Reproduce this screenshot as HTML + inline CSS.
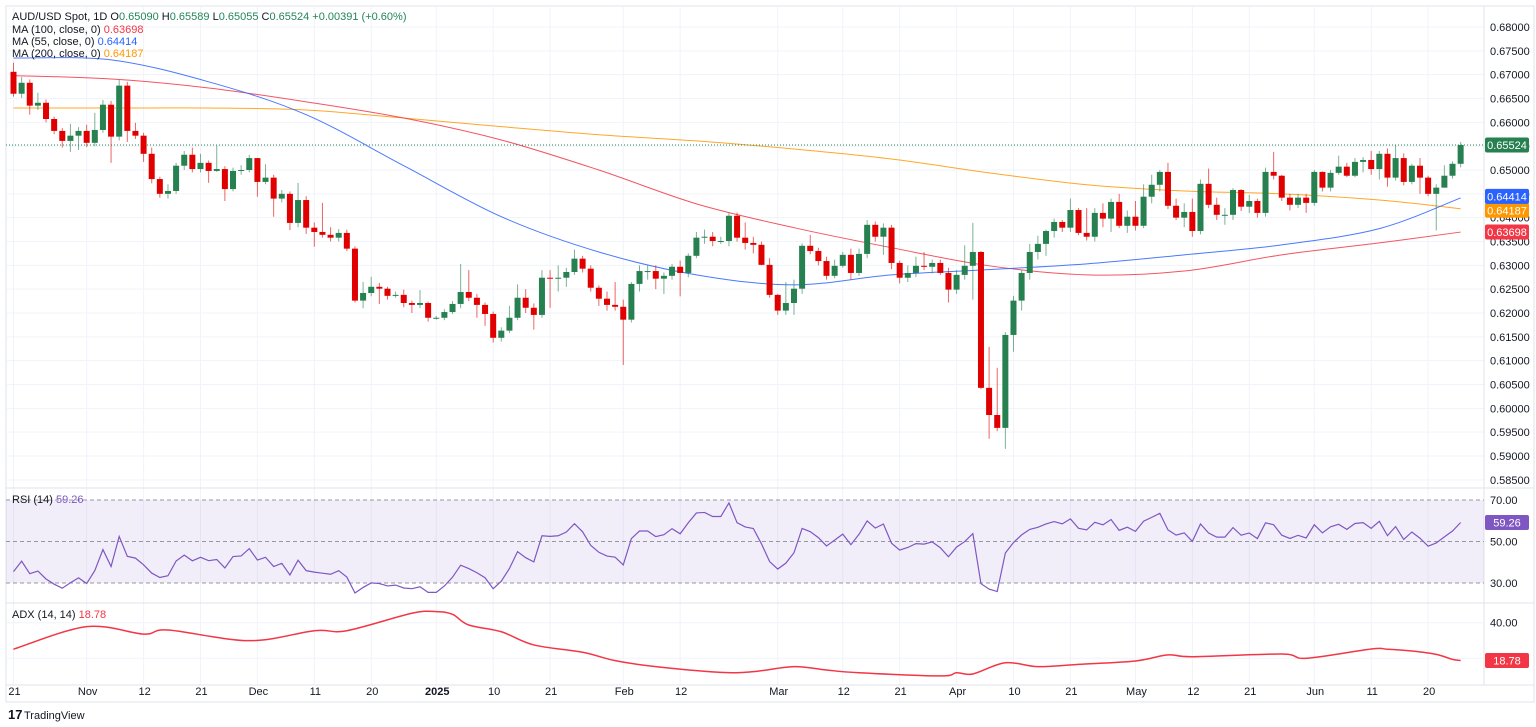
<!DOCTYPE html>
<html><head><meta charset="utf-8">
<style>
html,body{margin:0;padding:0;background:#fff;}
svg{display:block;font-family:"Liberation Sans",Arial,sans-serif;}
</style></head>
<body>
<svg id="chart" width="1536" height="727" viewBox="0 0 1536 727" xmlns="http://www.w3.org/2000/svg">
<g id="grid"></g>
<g id="ma"></g>
<g id="candles"></g>
<g id="rsi"></g>
<g id="adx"></g>
<g id="axes"></g>
<g font-size="11">
<text x="12" y="20" fill="#131722">AUD/USD Spot, 1D  O<tspan fill="#22855a">0.65090</tspan>  H<tspan fill="#22855a">0.65589</tspan>  L<tspan fill="#22855a">0.65055</tspan>  C<tspan fill="#22855a">0.65524</tspan> <tspan fill="#22855a">+0.00391 (+0.60%)</tspan></text>
<text x="12" y="33" fill="#131722">MA (100, close, 0) <tspan fill="#f23645">0.63698</tspan></text>
<text x="12" y="45" fill="#131722">MA (55, close, 0) <tspan fill="#2962ff">0.64414</tspan></text>
<text x="12" y="57" fill="#131722">MA (200, close, 0) <tspan fill="#ff9800">0.64187</tspan></text>
<text x="12" y="503" fill="#131722">RSI (14) <tspan fill="#7e57c2">59.26</tspan></text>
<text x="12" y="618" fill="#131722">ADX (14, 14) <tspan fill="#f23645">18.78</tspan></text>
</g>
<g>
<text x="8" y="719" font-size="13" font-weight="bold" fill="#131722">17</text>
<text x="24" y="719" font-size="11" fill="#131722">TradingView</text>
</g>
</svg>
<script>
const firstOpen = 0.6706;
const closes = [.6660,.6683,.6635,.6641,.6607,.6582,.6561,.6572,.6582,.6557,.6584,.6637,.6570,.6677,.6582,.6572,.6534,.6481,.6450,.6456,
.6509,.6532,.6502,.6515,.6498,.6502,.6460,.6498,.6500,.6525,.6475,.6484,.6440,.6450,.6389,.6437,.6379,.6370,.6364,.6358,
.6368,.6335,.6226,.6242,.6255,.6251,.6236,.6238,.6221,.6217,.6221,.6190,.6190,.6202,.6219,.6244,.6232,.6217,.6198,.6148,
.6163,.6190,.6232,.6211,.6196,.6274,.6272,.6274,.6286,.6314,.6293,.6253,.6230,.6217,.6213,.6186,.6261,.6288,.6288,.6272,
.6278,.6297,.6284,.6320,.6358,.6360,.6351,.6351,.6404,.6358,.6347,.6343,.6301,.6238,.6205,.6221,.6251,.6341,.6330,.6309,
.6278,.6299,.6322,.6284,.6324,.6385,.6360,.6379,.6305,.6274,.6284,.6299,.6297,.6305,.6284,.6249,.6280,.6299,.6328,.6043,
.5986,.5959,.6154,.6226,.6284,.6328,.6345,.6372,.6391,.6379,.6416,.6368,.6360,.6410,.6398,.6433,.6383,.6402,.6383,.6444,
.6469,.6496,.6425,.6400,.6412,.6372,.6471,.6427,.6406,.6406,.6458,.6423,.6435,.6410,.6496,.6488,.6442,.6427,.6442,.6431,
.6496,.6463,.6494,.6507,.6488,.6517,.6521,.6502,.6534,.6484,.6525,.6475,.6509,.6484,.6450,.6463,.6488,.6513,.65524];
const highs = [.6725,.6695,.6690,.6662,.6648,.6612,.6588,.6597,.6590,.6595,.6620,.6647,.6645,.6689,.6685,.6599,.6578,.6547,.6486,.6470,
.6515,.6540,.6547,.6534,.6520,.6551,.6508,.6505,.6510,.6532,.6520,.6512,.6490,.6458,.6455,.6473,.6445,.6390,.6431,.6380,
.6376,.6375,.6340,.6265,.6276,.6263,.6255,.6245,.6249,.6226,.6248,.6224,.6194,.6208,.6225,.6303,.6290,.6240,.6222,.6203,
.6170,.6215,.6260,.6250,.6220,.6290,.6290,.6300,.6295,.6333,.6320,.6300,.6258,.6245,.6265,.6228,.6265,.6300,.6300,.6300,
.6285,.6303,.6310,.6325,.6370,.6375,.6370,.6360,.6410,.6411,.6390,.6360,.6350,.6315,.6240,.6265,.6270,.6346,.6364,.6337,
.6318,.6312,.6328,.6335,.6335,.6395,.6392,.6388,.6385,.6310,.6300,.6318,.6328,.6312,.6312,.6295,.6290,.6342,.6389,.6330,
.6129,.6085,.6160,.6236,.6290,.6345,.6362,.6375,.6398,.6395,.6440,.6420,.6420,.6420,.6430,.6440,.6450,.6415,.6435,.6470,
.6490,.6500,.6515,.6440,.6430,.6440,.6480,.6503,.6442,.6420,.6462,.6460,.6448,.6440,.6505,.6538,.6490,.6450,.6450,.6450,
.6500,.6497,.6500,.6530,.6515,.6525,.6527,.6540,.6540,.6545,.6552,.6535,.6513,.6525,.6488,.6470,.6510,.6518,.65589];
const lows = [.6654,.6651,.6616,.6626,.6600,.6575,.6547,.6538,.6542,.6548,.6550,.6578,.6515,.6562,.6559,.6565,.6517,.6472,.6442,.6440,
.6450,.6500,.6495,.6495,.6473,.6496,.6435,.6455,.6490,.6495,.6444,.6470,.6402,.6432,.6374,.6380,.6366,.6339,.6358,.6350,
.6350,.6330,.6222,.6210,.6235,.6219,.6228,.6232,.6212,.6200,.6210,.6182,.6186,.6185,.6198,.6210,.6225,.6190,.6173,.6138,
.6140,.6158,.6185,.6200,.6165,.6190,.6211,.6245,.6255,.6280,.6285,.6245,.6215,.6205,.6205,.6091,.6180,.6245,.6270,.6250,
.6240,.6270,.6235,.6275,.6315,.6345,.6340,.6345,.6340,.6350,.6333,.6325,.6300,.6232,.6196,.6196,.6196,.6240,.6323,.6300,
.6270,.6273,.6295,.6270,.6278,.6315,.6350,.6322,.6292,.6262,.6265,.6275,.6290,.6283,.6280,.6222,.6240,.6270,.6228,.6040,
.5936,.5952,.5915,.6119,.6205,.6270,.6312,.6320,.6358,.6370,.6370,.6363,.6352,.6350,.6380,.6370,.6378,.6368,.6373,.6378,
.6430,.6455,.6418,.6395,.6380,.6360,.6365,.6420,.6395,.6385,.6395,.6414,.6410,.6400,.6402,.6480,.6435,.6415,.6420,.6410,
.6425,.6455,.6455,.6490,.6485,.6485,.6495,.6490,.6480,.6465,.6478,.6468,.6470,.6450,.6445,.6373,.6470,.6482,.65055];
const maIdx = [0,12,24,36,48,60,72,84,96,108,120,132,144,156,168,178];
const ma55 = [.6735,.6731,.6685,.6616,.6509,.6402,.6328,.6280,.6259,.6280,.6291,.6303,.6322,.6343,.6377,.64414];
const ma100 = [.6698,.6691,.6672,.6643,.6609,.6563,.6500,.6429,.6379,.6337,.6299,.6280,.6288,.6322,.6347,.63698];
const ma200 = [.6630,.6630,.6630,.6626,.6609,.6591,.6574,.6561,.6544,.6523,.6494,.6469,.6456,.6450,.6437,.64187];
const adxIdx = [0,9,16,19,29,37,41,49,52,54,56,60,64,70,74,79,87,91,96,100,104,114,116,118,122,126,131,138,142,145,156,159,167,169,172,175,177,178];
const adxVals = [25.1,37.8,33.6,35.9,29.9,35.5,35.5,45.3,46.2,44.7,38.7,34.9,27.5,23.4,18.7,15.3,12.1,12.5,15.3,13.4,11.9,10.1,11.9,11.2,17.5,15.3,16.6,18.5,21.9,20.9,22.4,20,25.2,25.1,24.1,22.2,19.4,18.78];
const priceTicks = [0.68,0.675,0.67,0.665,0.66,0.655,0.65,0.645,0.64,0.635,0.63,0.625,0.62,0.615,0.61,0.605,0.60,0.595,0.59,0.585];
const dateLabels = ["21","Nov","12","21","Dec","11","20","2025","10","21","Feb","12","Mar","12","21","Apr","10","21","May","12","21","Jun","11","20"];
const dateIdx = [0,9,16,23,30,37,44,52,59,66,75,82,94,102,109,116,123,130,138,145,152,160,167,174];
const rsiSeedGain = 0.0008, rsiSeedLoss = 0.0011;
const rsiLast = 59.26;

const NS = "http://www.w3.org/2000/svg";
const PLOT_R = 1484;
const xOf = i => 13.5 + i * 8.13;
const yOf = p => 27 + (0.68 - p) * (429 / 0.09);
const yRsi = v => 583 - (v - 30) * (83 / 40);
const yAdx = v => 658.3 - (v - 20) * 1.78;
function mk(tag, attrs, parent) {
  const e = document.createElementNS(NS, tag);
  for (const k in attrs) e.setAttribute(k, attrs[k]);
  parent.appendChild(e);
  return e;
}
const G = id => document.getElementById(id);
const grid = G('grid'), axes = G('axes');

let fr = mk('rect', {x:6, y:6, width:1528, height:696, fill:'none', stroke:'#e0e3eb'}, grid);


priceTicks.forEach(p => {
  const y = yOf(p);
  let l = mk('line', {x1:6, x2:PLOT_R, y1:y, y2:y, stroke:'#f0f3fa'}, grid);
  
  
  let t = mk('text', {x:1490, y:y + 4, 'font-size':11, fill:'#131722'}, axes);
  t.textContent = p.toFixed(5);
  
  
});
dateIdx.forEach((di, k) => {
  const x = xOf(di);
  let l = mk('line', {x1:x, x2:x, y1:6, y2:685, stroke:'#f0f3fa'}, grid);
  
  
  let t = mk('text', {x:x + 1, y:695, 'font-size':11, fill:'#131722', 'text-anchor':'middle', 'font-weight': dateLabels[k] === '2025' ? 'bold' : 'normal'}, axes);
  t.textContent = dateLabels[k];
  
  
});
[488, 603, 685].forEach(y => {
  let l = mk('line', {x1:6, x2:1534, y1:y, y2:y, stroke:'#e0e3eb'}, grid);
  
  
});
let ax = mk('line', {x1:PLOT_R, x2:PLOT_R, y1:6, y2:685, stroke:'#e0e3eb'}, grid);



function smoothPath(pts) {
  let d = 'M' + pts[0][0] + ',' + pts[0][1];
  for (let i = 0; i < pts.length - 1; i++) {
    const p0 = pts[Math.max(0, i - 1)], p1 = pts[i], p2 = pts[i + 1], p3 = pts[Math.min(pts.length - 1, i + 2)];
    const c1x = p1[0] + (p2[0] - p0[0]) / 6, c1y = p1[1] + (p2[1] - p0[1]) / 6;
    const c2x = p2[0] - (p3[0] - p1[0]) / 6, c2y = p2[1] - (p3[1] - p1[1]) / 6;
    d += ' C' + c1x + ',' + c1y + ' ' + c2x + ',' + c2y + ' ' + p2[0] + ',' + p2[1];
  }
  return d;
}
const maG = G('ma');
[[ma200, '#ff9800', 'ma200-line'], [ma100, '#f23645', 'ma100-line'], [ma55, '#2962ff', 'ma55-line']].forEach(([arr, col, nm]) => {
  const pts = arr.map((v, k) => [xOf(maIdx[k]), yOf(v)]);
  let p = mk('path', {d:smoothPath(pts), fill:'none', stroke:col, 'stroke-width':1, opacity:0.85}, maG);
  
  
});

const lastC = closes[closes.length - 1];
let dl = mk('line', {x1:6, x2:PLOT_R, y1:yOf(lastC), y2:yOf(lastC), stroke:'#22855a', 'stroke-dasharray':'1,2'}, G('candles'));



const cG = G('candles');
closes.forEach((c, i) => {
  const o = i === 0 ? firstOpen : closes[i - 1];
  const up = c >= o;
  const col = up ? '#26804f' : '#e00000';
  const x = xOf(i);
  const h = Math.max(highs[i], o, c), l = Math.min(lows[i], o, c);
  let w = mk('line', {x1:x, x2:x, y1:yOf(h), y2:yOf(l), stroke:col, 'stroke-width':1, opacity:0.6}, cG);
  
  
  const yt = yOf(Math.max(o, c)), yb = yOf(Math.min(o, c));
  let b = mk('rect', {x:x - 3, y:yt, width:6, height:Math.max(1, yb - yt), fill:col}, cG);
  
  
});

const rG = G('rsi');
let band = mk('rect', {x:6, y:yRsi(70), width:PLOT_R - 6, height:yRsi(30) - yRsi(70), fill:'#7e57c2', 'fill-opacity':0.1}, rG);


[70, 50, 30].forEach(v => {
  let l = mk('line', {x1:6, x2:PLOT_R, y1:yRsi(v), y2:yRsi(v), stroke:'#9598a1', 'stroke-dasharray':'4,3'}, rG);
  
  
  let t = mk('text', {x:1490, y:yRsi(v) + 4, 'font-size':11, fill:'#131722'}, axes);
  t.textContent = v.toFixed(2);
  
  
});
let ag = rsiSeedGain, al = rsiSeedLoss, prev = firstOpen;
const rsiVals = [];
closes.forEach(c => {
  const ch = c - prev; prev = c;
  ag = (ag * 13 + Math.max(ch, 0)) / 14;
  al = (al * 13 + Math.max(-ch, 0)) / 14;
  rsiVals.push(100 - 100 / (1 + ag / al));
});
let rp = mk('polyline', {points:rsiVals.map((v, i) => xOf(i) + ',' + yRsi(v)).join(' '), fill:'none', stroke:'#7e57c2', 'stroke-width':1.2}, rG);



const dG = G('adx');
[40, 20].forEach(v => {
  let l = mk('line', {x1:6, x2:PLOT_R, y1:yAdx(v), y2:yAdx(v), stroke:'#f0f3fa'}, dG);
  
  
});
let at = mk('text', {x:1490, y:yAdx(40) + 4, 'font-size':11, fill:'#131722'}, axes);
at.textContent = '40.00';


let apl = mk('path', {d:smoothPath(adxVals.map((v, k) => [xOf(adxIdx[k]), yAdx(v)])), fill:'none', stroke:'#f23645', 'stroke-width':1.5, 'stroke-linejoin':'round'}, dG);



function badge(y, txt, bg, nm) {
  const g = mk('g', {}, axes);
  
  
  mk('rect', {x:1485, y:y - 7.5, width:44, height:15, rx:2, fill:bg}, g);
  const t = mk('text', {x:1507, y:y + 4, 'font-size':11, fill:'#fff', 'text-anchor':'middle'}, g);
  t.textContent = txt;
}
badge(yOf(ma100[ma100.length - 1]), ma100[ma100.length - 1].toFixed(5), '#f23645', 'ma100-badge');
badge(yOf(ma200[ma200.length - 1]) + 1.5, ma200[ma200.length - 1].toFixed(5), '#ff9800', 'ma200-badge');
badge(yOf(ma55[ma55.length - 1]) - 1.5, ma55[ma55.length - 1].toFixed(5), '#2962ff', 'ma55-badge');
badge(yOf(lastC), lastC.toFixed(5), '#26804f', 'last-price-badge');
badge(yRsi(rsiVals[rsiVals.length - 1]), rsiLast.toFixed(2), '#7e57c2', 'rsi-badge');
badge(yAdx(adxVals[adxVals.length - 1]), adxVals[adxVals.length - 1].toFixed(2), '#f23645', 'adx-badge');
</script>
</body></html>
